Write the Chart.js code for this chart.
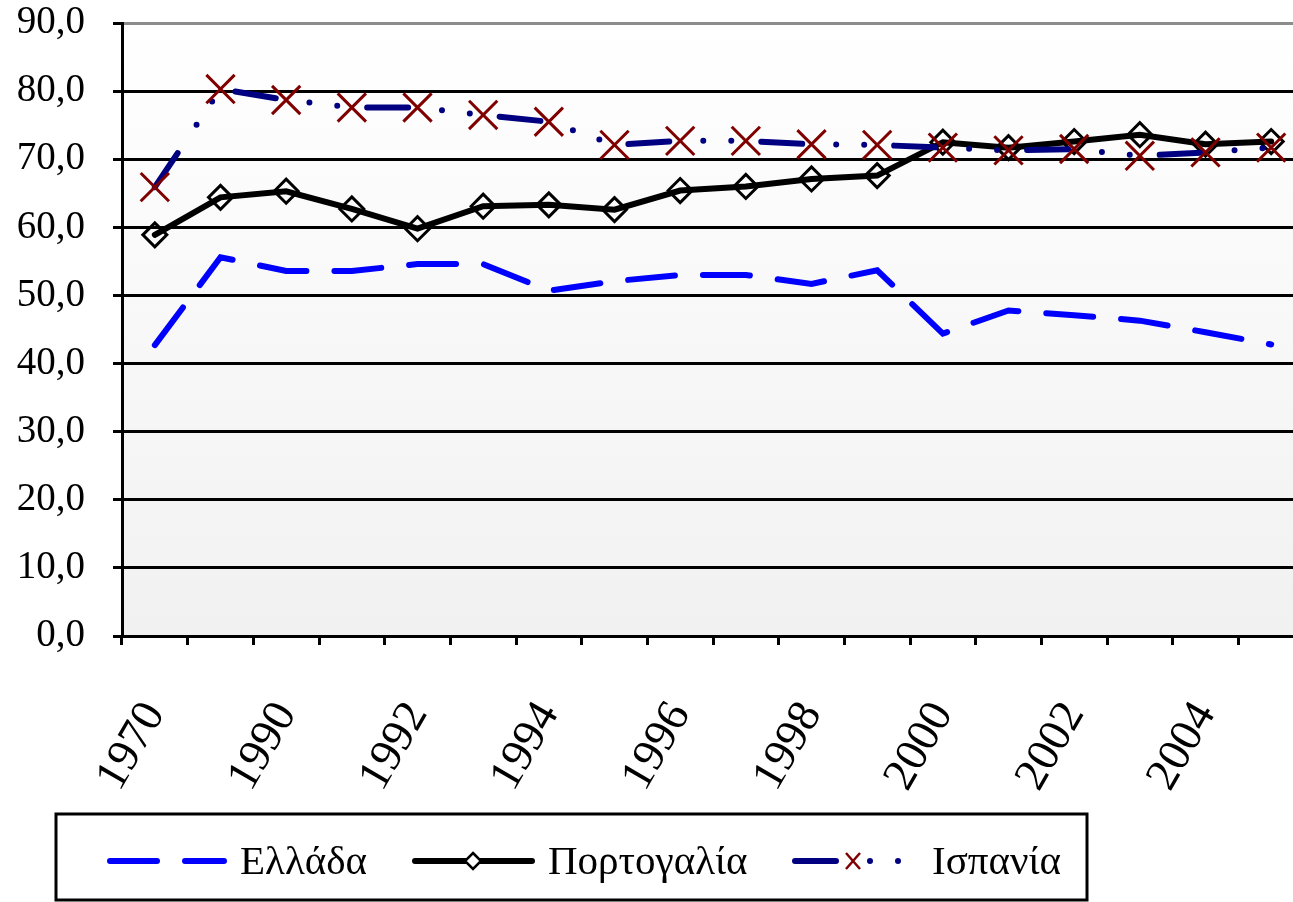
<!DOCTYPE html>
<html lang="el">
<head>
  <meta charset="UTF-8" />
  <title>Ελλάδα - Πορτογαλία - Ισπανία</title>
  <script src="https://cdn.jsdelivr.net/npm/chart.js"></script>
  <style>
    html, body {
      margin: 0;
      padding: 0;
      background: #fff;
      overflow: hidden;
    }
    canvas { display: block; }
  </style>
</head>
<body>
  <canvas id="chart" width="1327" height="902"></canvas>

  <script>
    // Κατηγορίες (έτη) - εμφανίζεται μόνο κάθε δεύτερη ετικέτα
    const years = ["1970", "1980", "1990", "1991", "1992", "1993", "1994", "1995", "1996",
                   "1997", "1998", "1999", "2000", "2001", "2002", "2003", "2004", "2005"];

    // Τιμές σειρών
    const greece   = [42.7, 55.6, 53.6, 53.6, 54.6, 54.6, 50.7, 52.1, 53.0,
                      53.0, 51.7, 53.7, 44.4, 47.8, 47.1, 46.3, 44.6, 42.8];
    const portugal = [58.9, 64.4, 65.3, 62.7, 59.8, 63.1, 63.3, 62.6, 65.4,
                      66.0, 67.1, 67.6, 72.5, 71.7, 72.6, 73.6, 72.2, 72.6];
    const spain    = [65.9, 80.3, 78.7, 77.6, 77.6, 76.5, 75.5, 72.1, 72.7,
                      72.7, 72.2, 72.1, 71.7, 71.3, 71.5, 70.5, 71.0, 71.7];

    // Άξονας Y
    const yMin = 0;
    const yMax = 90;
    const yStep = 10;

    const serif = "'Liberation Serif', 'Times New Roman', serif";

    // Φόντο περιοχής γραφήματος (διαβάθμιση)
    const plotBackground = {
      id: "plotBackground",
      beforeDraw(chart) {
        const { ctx, chartArea: a } = chart;
        const g = ctx.createLinearGradient(0, a.top, 0, a.bottom);
        g.addColorStop(0, "#ffffff");
        g.addColorStop(1, "#f1f1f1");
        ctx.save();
        ctx.fillStyle = g;
        ctx.fillRect(a.left, a.top, a.right - a.left, a.bottom - a.top);
        ctx.restore();
      }
    };

    // Υπόμνημα με πλαίσιο, όπως στο Excel
    const boxLegend = {
      id: "boxLegend",
      afterDraw(chart) {
        const ctx = chart.ctx;
        const ds = chart.data.datasets;
        const y = 861;
        ctx.save();

        ctx.strokeStyle = "#000";
        ctx.lineWidth = 3;
        ctx.strokeRect(56, 814, 1031, 86);

        ctx.font = "41px " + serif;
        ctx.fillStyle = "#000";
        ctx.textBaseline = "middle";

        // Ελλάδα
        ctx.lineCap = "round";
        ctx.lineWidth = 6;
        ctx.strokeStyle = ds[0].borderColor;
        ctx.setLineDash(ds[0].borderDash);
        ctx.beginPath(); ctx.moveTo(110, y); ctx.lineTo(224, y); ctx.stroke();
        ctx.setLineDash([]);
        ctx.fillText(ds[0].label, 240, y + 2);

        // Πορτογαλία
        ctx.strokeStyle = ds[1].borderColor;
        ctx.beginPath(); ctx.moveTo(415, y); ctx.lineTo(532, y); ctx.stroke();
        ctx.lineWidth = 2.5;
        ctx.fillStyle = "#fff";
        ctx.beginPath();
        ctx.moveTo(473, y - 8); ctx.lineTo(481, y); ctx.lineTo(473, y + 8); ctx.lineTo(465, y);
        ctx.closePath(); ctx.fill(); ctx.stroke();
        ctx.fillStyle = "#000";
        ctx.fillText(ds[1].label, 548, y + 2);

        // Ισπανία
        ctx.lineWidth = 6;
        ctx.strokeStyle = ds[2].borderColor;
        ctx.setLineDash(ds[2].borderDash);
        ctx.beginPath(); ctx.moveTo(795, y); ctx.lineTo(905, y); ctx.stroke();
        ctx.setLineDash([]);
        ctx.lineCap = "butt";
        ctx.lineWidth = 2.5;
        ctx.strokeStyle = ds[2].pointBorderColor;
        ctx.beginPath();
        ctx.moveTo(846, y - 8); ctx.lineTo(860, y + 8);
        ctx.moveTo(860, y - 8); ctx.lineTo(846, y + 8);
        ctx.stroke();
        ctx.fillText(ds[2].label, 932, y + 2);

        ctx.restore();
      }
    };

    new Chart(document.getElementById("chart"), {
      type: "line",
      data: {
        labels: years,
        datasets: [
          {
            label: "Ελλάδα",
            data: greece,
            borderColor: "#0000ff",
            borderWidth: 6,
            borderDash: [47, 28],
            borderCapStyle: "round",
            pointRadius: 0,
            fill: false,
            order: 3
          },
          {
            label: "Πορτογαλία",
            data: portugal,
            borderColor: "#000000",
            borderWidth: 6,
            borderCapStyle: "round",
            pointStyle: "rectRot",
            pointRadius: 12,
            pointBorderWidth: 3,
            pointBorderColor: "#000000",
            pointBackgroundColor: "rgba(0,0,0,0)",
            fill: false,
            order: 2
          },
          {
            label: "Ισπανία",
            data: spain,
            borderColor: "#000080",
            borderWidth: 6,
            borderDash: [41, 34, 0, 28, 0, 30],
            borderCapStyle: "round",
            pointStyle: "crossRot",
            pointRadius: 20,
            pointBorderWidth: 3,
            pointBorderColor: "#800000",
            pointBackgroundColor: "#800000",
            fill: false,
            order: 1
          }
        ]
      },
      options: {
        responsive: false,
        animation: false,
        devicePixelRatio: 1,
        layout: { padding: { top: 21, left: 0, right: 0, bottom: 0 } },
        plugins: {
          legend: { display: false },
          tooltip: { enabled: false }
        },
        scales: {
          x: {
            offset: true,
            grid: {
              offset: true,
              drawOnChartArea: false,
              drawTicks: true,
              tickLength: 9,
              color: "#000",
              lineWidth: 3
            },
            border: { color: "#000", width: 3 },
            ticks: {
              autoSkip: false,
              minRotation: 60,
              maxRotation: 60,
              padding: 48,
              color: "#000",
              font: { family: serif, size: 46 },
              callback: (v, i) => (i % 2 === 0 ? years[i] : "")
            },
            afterFit: s => {
              s.height = 266;
              s.paddingLeft = 0;
              s.paddingRight = 0;
            }
          },
          y: {
            min: yMin,
            max: yMax,
            ticks: {
              stepSize: yStep,
              padding: 28,
              color: "#000",
              font: { family: serif, size: 39 },
              callback: v => v.toFixed(1).replace(".", ",")
            },
            grid: {
              color: c => (c.tick && c.tick.value === yMax ? "#8c8c8c" : "#000"),
              tickColor: "#000",
              lineWidth: 3,
              tickLength: 9
            },
            border: { color: "#000", width: 3 },
            afterFit: s => {
              s.width = 122;
              s.paddingTop = 0;
              s.paddingBottom = 0;
            }
          }
        }
      },
      plugins: [plotBackground, boxLegend]
    });
  </script>
</body>
</html>
